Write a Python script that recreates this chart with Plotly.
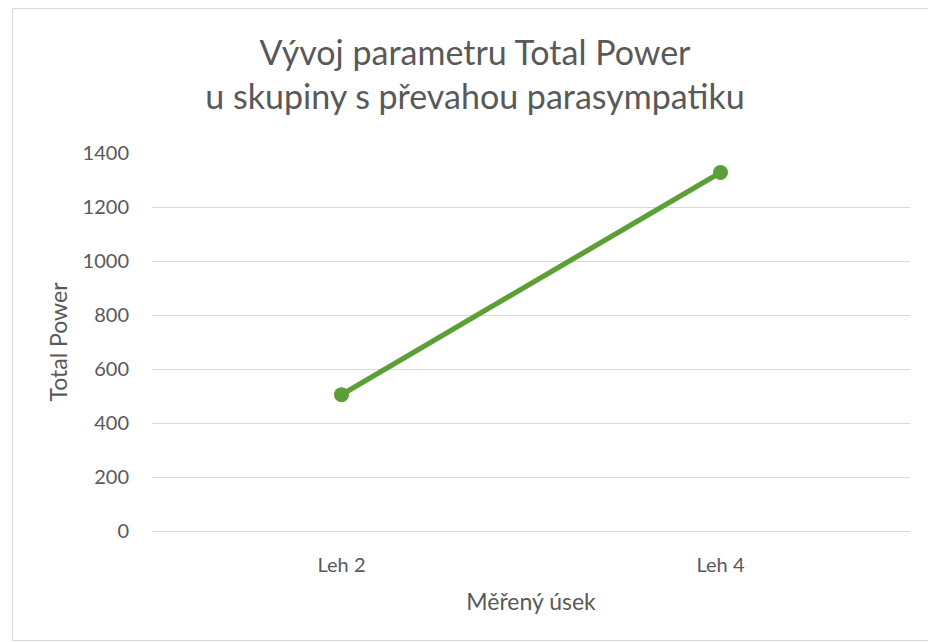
import plotly.graph_objects as go

categories = ["Leh 2", "Leh 4"]
values = [505, 1328]
y_ticks = [0, 200, 400, 600, 800, 1000, 1200, 1400]

W, H = 928, 642
L, R, T, B = 152, 18, 153, 111
font = "Lato, 'Open Sans', sans-serif"
grey = "#595959"
green = "#5b9f36"
border = "#d9d9d9"

fig = go.Figure()
fig.add_trace(go.Scatter(
    x=categories, y=values, mode="lines+markers",
    line=dict(color=green, width=5.2),
    marker=dict(color=green, size=15),
    showlegend=False,
))

pw, ph = W - L - R, H - T - B
bx0 = (12.5 - L) / pw
bx1 = (W + 20 - L) / pw
by0 = -(H - 1.5 - (H - B)) / ph
by1 = 1 + (T - 8.5) / ph

def seg(x0, y0, x1, y1):
    return dict(type="line", xref="paper", yref="paper", x0=x0, y0=y0, x1=x1, y1=y1,
                line=dict(color=border, width=1), layer="below")

fig.update_layout(
    width=W, height=H,
    margin=dict(l=L, r=R, t=T, b=B),
    paper_bgcolor="white", plot_bgcolor="white",
    font=dict(family=font, color=grey, size=20),
    title=dict(
        text="Vývoj parametru Total Power<br>u skupiny s převahou parasympatiku",
        x=475 / W, xref="container", xanchor="center",
        y=1 - 65 / H, yref="container", yanchor="middle",
        font=dict(family=font, size=34, color=grey),
    ),
    xaxis=dict(
        type="category", range=[-0.5, 1.5],
        showgrid=False, showline=True, linecolor=border, linewidth=1,
        ticks="outside", ticklen=16, tickcolor="rgba(0,0,0,0)",
        tickfont=dict(size=20, color=grey),
        title=dict(text="Měřený úsek", font=dict(size=23, color=grey), standoff=18),
    ),
    yaxis=dict(
        range=[0, 1400], tickvals=y_ticks,
        showgrid=True, gridcolor=border, gridwidth=1,
        zeroline=True, zerolinecolor=border, zerolinewidth=1,
        showline=False,
        ticks="outside", ticklen=18, tickcolor="rgba(0,0,0,0)",
        tickfont=dict(size=20, color=grey),
        title=dict(text="Total Power", font=dict(size=23, color=grey), standoff=8),
    ),
    shapes=[
        seg(bx0, by1, bx1, by1),
        seg(bx0, by0, bx0, by1),
        seg(bx0, by0, bx1, by0),
    ],
)

fig.write_html(
    "out.html",
    config={"displayModeBar": False},
    post_script="document.body.style.margin='0px';document.body.style.overflow='hidden';",
)
